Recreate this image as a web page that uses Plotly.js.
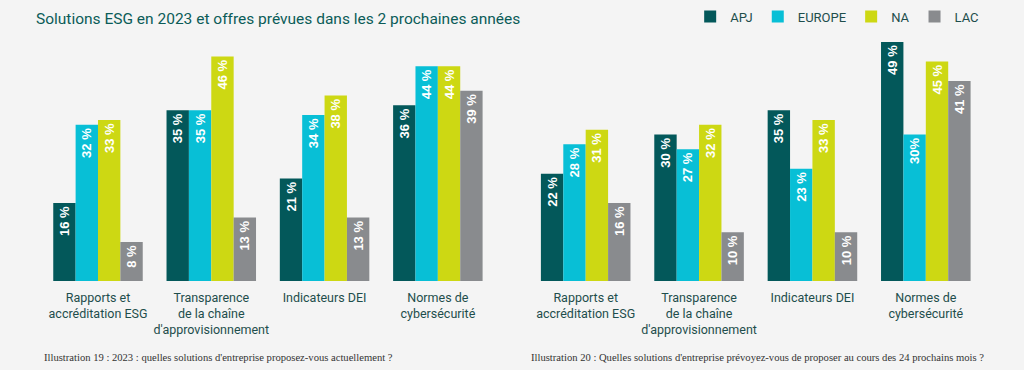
<!DOCTYPE html>
<html>
<head>
<meta charset="utf-8">
<script src="https://cdn.plot.ly/plotly-3.0.1.min.js"></script>
<style>
html,body{margin:0;padding:0;background:#f4f4f4;}
#chart{width:1024px;height:370px;}
</style>
</head>
<body>
<div id="chart"></div>
<script>
const categories = ["Rapports et<br>accréditation ESG", "Transparence<br>de la chaîne<br>d'approvisionnement", "Indicateurs DEI", "Normes de<br>cybersécurité"];
const seriesNames = ["APJ", "EUROPE", "NA", "LAC"];
const seriesColors = ["#03585a", "#08bfd6", "#cdd813", "#898b8e"];

// Illustration 19 : 2023
const apj2023 = [16, 35, 21, 36];
const europe2023 = [32, 35, 34, 44];
const na2023 = [33, 46, 38, 44];
const lac2023 = [8, 13, 13, 39];

// Illustration 20 : 24 prochains mois
const apjNext = [22, 30, 35, 49];
const europeNext = [28, 27, 23, 30];
const naNext = [31, 32, 33, 45];
const lacNext = [16, 10, 10, 41];
const europeNextLabels = ["28 %", "27 %", "23 %", "30%"];

const title = "Solutions ESG en 2023 et offres prévues dans les 2 prochaines années";
const caption19 = "Illustration 19 : 2023 : quelles solutions d'entreprise proposez-vous actuellement ?";
const caption20 = "Illustration 20 : Quelles solutions d'entreprise prévoyez-vous de proposer au cours des 24 prochains mois ?";

const pct = v => v + " %";
const textFont = {family: "Liberation Sans, Arial, sans-serif", size: 13, color: "#ffffff", weight: "bold"};

function bar(vals, labels, i, xa, showLeg) {
  return {
    type: "bar", x: categories, y: vals, name: seriesNames[i],
    xaxis: xa, yaxis: "y",
    marker: {color: seriesColors[i], line: {width: 0}},
    text: labels, textposition: "inside", insidetextanchor: "end", textangle: -90,
    textfont: textFont, constraintext: "none", cliponaxis: false,
    showlegend: showLeg, legendgroup: seriesNames[i], hoverinfo: "skip"
  };
}

const data = [
  bar(apj2023, apj2023.map(pct), 0, "x", true),
  bar(europe2023, europe2023.map(pct), 1, "x", true),
  bar(na2023, na2023.map(pct), 2, "x", true),
  bar(lac2023, lac2023.map(pct), 3, "x", true),
  bar(apjNext, apjNext.map(pct), 0, "x2", false),
  bar(europeNext, europeNextLabels, 1, "x2", false),
  bar(naNext, naNext.map(pct), 2, "x2", false),
  bar(lacNext, lacNext.map(pct), 3, "x2", false)
];

const axisCommon = {
  type: "category", showgrid: false, zeroline: false, showline: false, ticks: "",
  tickangle: 0, automargin: false, ticklabelstandoff: 7,
  tickfont: {family: "Roboto, Liberation Sans, sans-serif", size: 12.5, color: "#1e4e4c"},
  fixedrange: true
};

const layout = {
  width: 1024, height: 370,
  paper_bgcolor: "#f4f4f4", plot_bgcolor: "#f4f4f4",
  margin: {l: 0, r: 0, t: 37, b: 89},
  barmode: "group", bargap: 0.21, bargroupgap: 0,
  title: {
    text: title, x: 36/1024, xanchor: "left", y: 1 - 19/370, yanchor: "middle",
    font: {family: "Roboto, Liberation Sans, sans-serif", size: 15.5, color: "#0b5c58"}
  },
  xaxis: Object.assign({domain: [41.35/1024, 494.5/1024], anchor: "y"}, axisCommon),
  xaxis2: Object.assign({domain: [529/1024, 982.5/1024], anchor: "y"}, axisCommon),
  yaxis: {range: [0, 50], visible: false, showgrid: false, zeroline: false, fixedrange: true},
  legend: {
    orientation: "h", x: 0.674, xanchor: "left", y: 1 - 16.5/370, yanchor: "middle",
    yref: "container",
    font: {family: "Roboto, Liberation Sans, sans-serif", size: 13, color: "#1e4e4c"},
    bgcolor: "rgba(0,0,0,0)", traceorder: "normal", itemclick: false, itemdoubleclick: false
  },
  annotations: [
    {text: caption19, xref: "paper", yref: "paper", x: 42/1024, xanchor: "left", y: -(357-281)/244, yanchor: "middle", showarrow: false,
     font: {family: "Liberation Serif, DejaVu Serif, serif", size: 10.6, color: "#333333"}},
    {text: caption20, xref: "paper", yref: "paper", x: 529/1024, xanchor: "left", y: -(357-281)/244, yanchor: "middle", showarrow: false,
     font: {family: "Liberation Serif, DejaVu Serif, serif", size: 10.6, color: "#333333"}}
  ]
};

Plotly.newPlot("chart", data, layout, {staticPlot: true, displayModeBar: false});
</script>
</body>
</html>
